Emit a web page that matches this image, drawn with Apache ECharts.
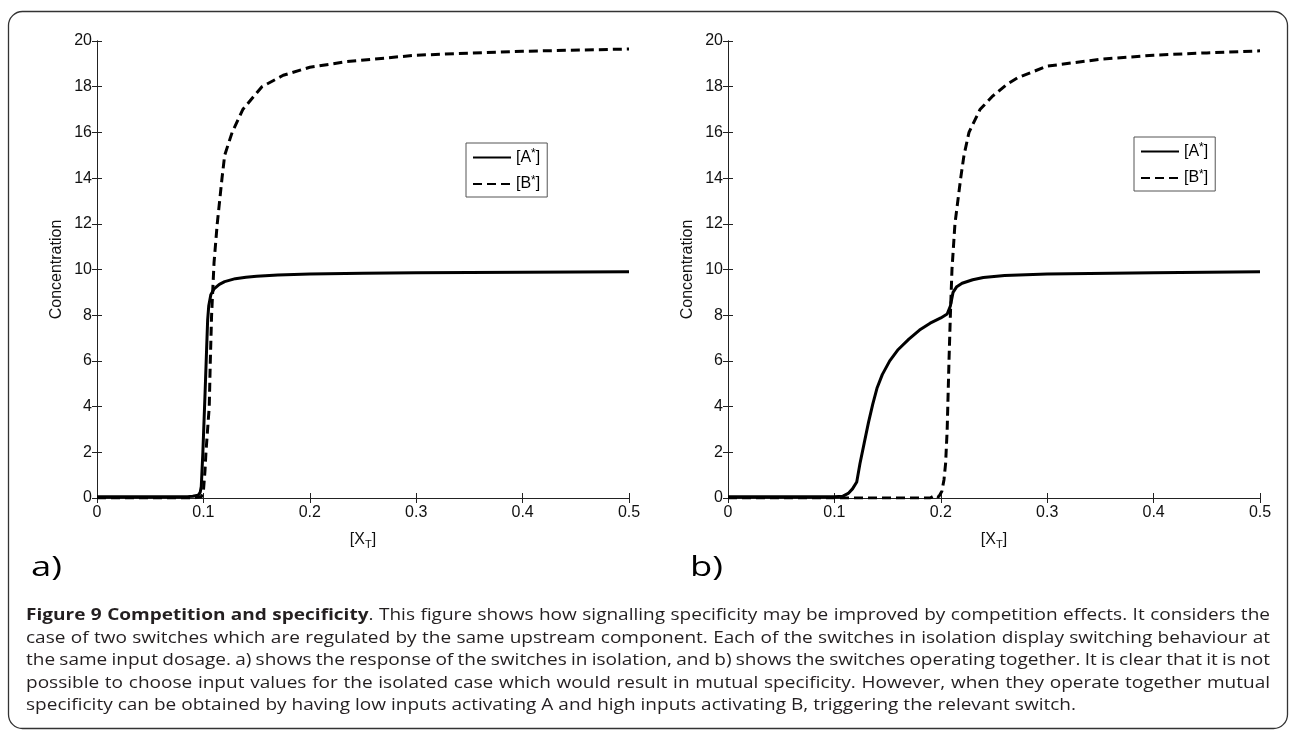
<!DOCTYPE html>
<html><head><meta charset="utf-8">
<script src="https://cdn.jsdelivr.net/npm/echarts@6/dist/echarts.min.js"></script>
<style>html,body{margin:0;padding:0;background:#fff}#c{width:1293px;height:736px}</style>
</head><body><div id="c"></div>
<script>
// ---------- data ----------
const xTickValues = [0, 0.1, 0.2, 0.3, 0.4, 0.5];
const yTickValues = [0, 2, 4, 6, 8, 10, 12, 14, 16, 18, 20];
const seriesNames = ['A', 'B'];

// panel a) switches in isolation
const aXA = [0, 0.05, 0.085, 0.09, 0.095, 0.097, 0.098, 0.0995, 0.1015, 0.103, 0.104, 0.105, 0.107, 0.11, 0.115, 0.12, 0.13, 0.14, 0.15, 0.17, 0.2, 0.25, 0.3, 0.4, 0.5];
const aYA = [0.05, 0.05, 0.06, 0.08, 0.12, 0.25, 0.5, 2, 4.5, 6.5, 7.8, 8.4, 8.9, 9.15, 9.35, 9.47, 9.6, 9.66, 9.7, 9.76, 9.8, 9.84, 9.86, 9.88, 9.9];
const aXB = [0, 0.09, 0.098, 0.1, 0.1015, 0.1024, 0.1055, 0.1065, 0.1077, 0.11, 0.113, 0.1175, 0.12, 0.127, 0.137, 0.155, 0.175, 0.2, 0.235, 0.3, 0.4, 0.5];
const aYB = [0, 0, 0.05, 0.3, 1.2, 2, 4, 6, 8, 10.3, 12, 14, 15, 16, 17, 18, 18.5, 18.85, 19.1, 19.38, 19.55, 19.65];

// panel b) switches operating together
const bXA = [0, 0.1, 0.108, 0.113, 0.117, 0.121, 0.124, 0.128, 0.132, 0.136, 0.14, 0.145, 0.152, 0.16, 0.17, 0.18, 0.19, 0.2, 0.206, 0.209, 0.2115, 0.215, 0.22, 0.23, 0.24, 0.26, 0.3, 0.4, 0.5];
const bYA = [0.05, 0.05, 0.08, 0.2, 0.4, 0.7, 1.5, 2.4, 3.3, 4.1, 4.8, 5.4, 6.0, 6.5, 6.95, 7.35, 7.65, 7.88, 8.05, 8.4, 9.0, 9.25, 9.4, 9.55, 9.65, 9.74, 9.8, 9.86, 9.9];
const bXB = [0, 0.19, 0.195, 0.198, 0.201, 0.203, 0.2045, 0.206, 0.2077, 0.209, 0.2105, 0.2133, 0.2187, 0.2218, 0.2265, 0.2368, 0.249, 0.262, 0.2726, 0.3, 0.35, 0.4, 0.45, 0.5];
const bYB = [0, 0, 0.12, 0.05, 0.3, 0.8, 1.5, 3, 6, 8, 10, 12, 14, 15, 16, 17, 17.6, 18.1, 18.4, 18.9, 19.2, 19.38, 19.48, 19.57];

const panelLabels = ['a)', 'b)'];
const xAxisName = '[X{sub|T}]';
const yAxisName = 'Concentration';
const captionBold = 'Figure 9 Competition and specificity';
const captionLines = [
  'Figure 9 Competition and specificity. This figure shows how signalling specificity may be improved by competition effects. It considers the',
  'case of two switches which are regulated by the same upstream component. Each of the switches in isolation display switching behaviour at',
  'the same input dosage. a) shows the response of the switches in isolation, and b) shows the switches operating together. It is clear that it is not',
  'possible to choose input values for the isolated case which would result in mutual specificity. However, when they operate together mutual',
  'specificity can be obtained by having low inputs activating A and high inputs activating B, triggering the relevant switch.'
];

// ---------- helpers ----------
const zip = (xs, ys) => xs.map((x, i) => [x, ys[i]]);
const AX = 'Liberation Sans';
const grids = [
  {left: 97, top: 41, width: 532, height: 457},
  {left: 728, top: 41, width: 532, height: 457}
];
const xMin = xTickValues[0], xMax = xTickValues[xTickValues.length - 1];
const xInt = xTickValues[1] - xTickValues[0];
const yMin = yTickValues[0], yMax = yTickValues[yTickValues.length - 1];
const yInt = yTickValues[1] - yTickValues[0];
const axLine = {show: true, lineStyle: {color: '#222', width: 1}};
const tick = {show: true, inside: true, length: 5, lineStyle: {color: '#222'}};
const lblStyle = {fontFamily: AX, fontSize: 16, color: '#111'};

const xAxes = [], yAxes = [];
grids.forEach((g, i) => {
  xAxes.push({type: 'value', gridIndex: i, position: 'bottom', min: xMin, max: xMax, interval: xInt,
    axisLine: axLine, axisTick: tick, splitLine: {show: false},
    axisLabel: Object.assign({margin: 7}, lblStyle),
    name: xAxisName, nameLocation: 'middle', nameGap: 31,
    nameTextStyle: {fontFamily: AX, fontSize: 16, color: '#111',
      rich: {sub: {fontFamily: AX, fontSize: 11, color: '#111', padding: [10, 0, 0, 0]}}}});
  xAxes.push({type: 'value', gridIndex: i, position: 'top', min: xMin, max: xMax, interval: xInt,
    axisLine: axLine, axisTick: tick, splitLine: {show: false}, axisLabel: {show: false}});
  yAxes.push({type: 'value', gridIndex: i, position: 'left', min: yMin, max: yMax, interval: yInt,
    axisLine: axLine, axisTick: tick, splitLine: {show: false},
    axisLabel: Object.assign({margin: 5}, lblStyle),
    name: yAxisName, nameLocation: 'middle', nameGap: 32,
    nameTextStyle: {fontFamily: AX, fontSize: 16, color: '#111'}});
  yAxes.push({type: 'value', gridIndex: i, position: 'right', min: yMin, max: yMax, interval: yInt,
    axisLine: axLine, axisTick: tick, splitLine: {show: false}, axisLabel: {show: false}});
});

const solid = {color: '#000', width: 3, type: 'solid'};
const dashed = {color: '#000', width: 3, type: [9, 5]};
function mk(name, p, data, ls) {
  return {type: 'line', name: name, xAxisIndex: p * 2, yAxisIndex: p * 2, data: data,
    symbol: 'none', lineStyle: ls, itemStyle: {color: '#000'}, silent: true, z: name === 'A' ? 2 : 3};
}
const series = [
  mk(seriesNames[0], 0, zip(aXA, aYA), solid),
  mk(seriesNames[1], 0, zip(aXB, aYB), dashed),
  mk(seriesNames[0], 1, zip(bXA, bYA), solid),
  mk(seriesNames[1], 1, zip(bXB, bYB), dashed)
];

function legend(left, top) {
  return {left: left, top: top, orient: 'vertical', data: seriesNames, selectedMode: false,
    padding: [5, 7, 5, 6], itemGap: 9, itemWidth: 38, itemHeight: 16,
    borderColor: '#555', borderWidth: 1, backgroundColor: '#fff',
    itemStyle: {color: 'rgba(0,0,0,0)', borderColor: 'rgba(0,0,0,0)', borderWidth: 0, opacity: 0},
    formatter: n => '[' + n + '{sup|*}]',
    textStyle: {fontFamily: AX, fontSize: 16, color: '#000',
      rich: {sup: {fontFamily: AX, fontSize: 12, color: '#000', padding: [0, 0, 7, 0]}}}};
}

// caption (justified by measuring words)
const ctx = document.createElement('canvas').getContext('2d');
const CF = 'Open Sans';
const CS = 15.5;
const fontStr = b => (b ? 'bold ' : '') + CS + 'px "' + CF + '"';
const mw = (t, b) => { ctx.font = fontStr(b); return ctx.measureText(t).width; };
const capLeft = 26, capRight = 1270, lastLineRight = 1076;
const capY = [616, 638.5, 661, 683.5, 706];
// horizontal stretch so the last (unjustified) line reaches the same length as in the figure
const capScale = (lastLineRight - capLeft) / mw(captionLines[captionLines.length - 1], false);
const graphics = [];
graphics.push({type: 'rect', silent: true, shape: {x: 8.5, y: 11.5, width: 1279, height: 717, r: 14},
  style: {fill: 'none', stroke: '#333', lineWidth: 1.3}});
panelLabels.forEach((t, i) => {
  graphics.push({type: 'text', silent: true, x: i === 0 ? 31 : 690, y: 568, scaleX: 1.35,
    style: {text: t, fontFamily: CF, fontSize: 27, fill: '#000', verticalAlign: 'middle'}});
});
const capChildren = [];
const innerWidth = (capRight - capLeft) / capScale;
captionLines.forEach((line, li) => {
  const words = [];
  let idx = 0;
  line.split(' ').forEach(w => {
    const s = line.indexOf(w, idx); idx = s + w.length;
    const parts = [];
    if (li === 0 && s < captionBold.length) {
      const nb = Math.min(w.length, captionBold.length - s);
      parts.push({t: w.slice(0, nb), b: true});
      if (nb < w.length) parts.push({t: w.slice(nb), b: false});
    } else parts.push({t: w, b: false});
    const width = parts.reduce((a, p) => a + mw(p.t, p.b), 0);
    words.push({parts, width});
  });
  const total = words.reduce((a, w) => a + w.width, 0);
  const justify = li < captionLines.length - 1;
  const gap = justify ? (innerWidth - total) / (words.length - 1) : mw(' ', false);
  let x = 0;
  words.forEach(w => {
    let px = x;
    w.parts.forEach(p => {
      capChildren.push({type: 'text', silent: true, x: px, y: capY[li],
        style: {text: p.t, fontFamily: CF, fontSize: CS, fontWeight: p.b ? 'bold' : 'normal',
          fill: '#231f20', verticalAlign: 'middle'}});
      px += mw(p.t, p.b);
    });
    x += w.width + gap;
  });
});
graphics.push({type: 'group', x: capLeft, y: 0, scaleX: capScale, silent: true, children: capChildren});

const chart = echarts.init(document.getElementById('c'), null, {renderer: 'canvas'});
chart.setOption({
  animation: false,
  backgroundColor: '#fff',
  grid: grids,
  xAxis: xAxes,
  yAxis: yAxes,
  legend: [legend(466, 143), legend(1134, 137)],
  series: series,
  graphic: graphics
});
</script></body></html>
